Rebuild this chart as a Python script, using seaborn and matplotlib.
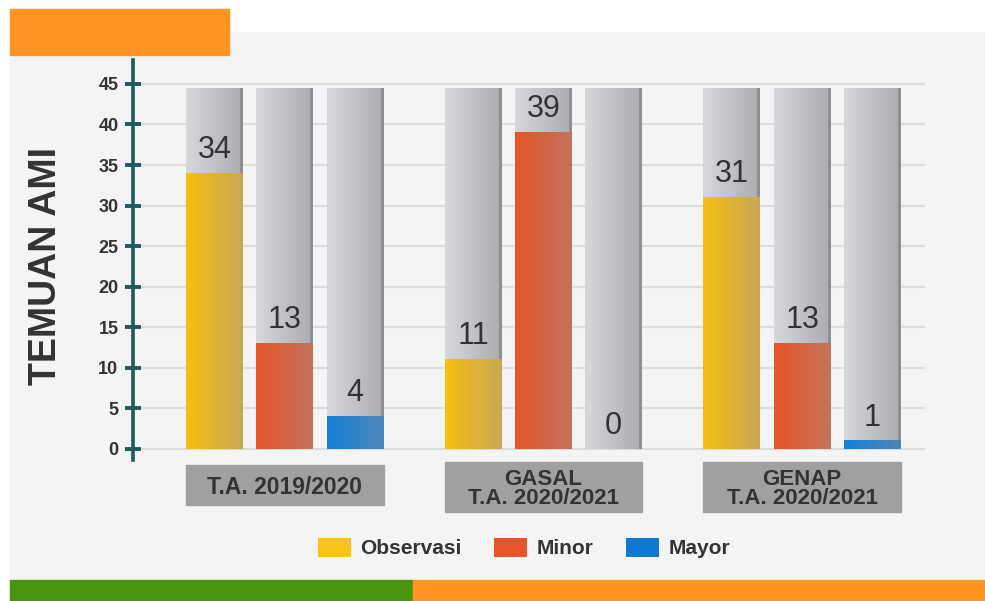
import numpy as np
import pandas as pd
import seaborn as sns
import matplotlib.pyplot as plt
from matplotlib.patches import Rectangle, Patch
from matplotlib.colors import LinearSegmentedColormap

# data
periode = ["T.A. 2019/2020", "GASAL\nT.A. 2020/2021", "GENAP\nT.A. 2020/2021"]
jenis = ["Observasi", "Minor", "Mayor"]
observasi = [34, 11, 31]
minor = [13, 39, 13]
mayor = [4, 0, 1]
y_ticks = [0, 5, 10, 15, 20, 25, 30, 35, 40, 45]
y_label = "TEMUAN AMI"
bar_max = 44.5  # grey background columns

df = pd.DataFrame({
    "periode": np.tile(periode, 3),
    "jenis": np.repeat(jenis, 3),
    "nilai": observasi + minor + mayor,
})
bg = df.assign(nilai=bar_max)

warna = {"Observasi": ("#f6bf12", "#c8a853"),
         "Minor": ("#e5562a", "#c4725b"),
         "Mayor": ("#1580d6", "#4c87b6")}
legend_warna = {"Observasi": "#f7c21a", "Minor": "#e6552a", "Mayor": "#0f78d0"}
orange = "#ff9623"
teks = "#333333"

plt.rcParams["font.family"] = ["Liberation Sans", "DejaVu Sans"]

fig = plt.figure(figsize=(9.85, 6.01), dpi=100)
fig.patch.set_facecolor("white")
# decorative panel and bands
fig.add_artist(Rectangle((10/985, 1-580/601), 975/985, 548/601, transform=fig.transFigure,
                         color="#f4f4f4", zorder=-10))
fig.add_artist(Rectangle((10/985, 1-55/601), 219/985, 46/601, transform=fig.transFigure,
                         color=orange, zorder=-5))
fig.add_artist(Rectangle((10/985, 0), 403/985, 21/601, transform=fig.transFigure,
                         color="#4b9410", zorder=-5))
fig.add_artist(Rectangle((413/985, 0), 572/985, 21/601, transform=fig.transFigure,
                         color=orange, zorder=-5))

ax = fig.add_axes([133/985, 1-460/601, 792/985, 400/601])
ax.set_facecolor("none")

sns.barplot(data=bg, x="periode", y="nilai", hue="jenis", order=periode, hue_order=jenis,
            palette=["#c5c7cb"]*3, width=0.815, gap=0.19, legend=False, ax=ax, zorder=2)
sns.barplot(data=df, x="periode", y="nilai", hue="jenis", order=periode, hue_order=jenis,
            palette=[warna[j][0] for j in jenis], width=0.815, gap=0.19, legend=False,
            ax=ax, zorder=3)

xlim = (-0.587, 2.475)
ylim = (-1.36, 47.95)

def gradien(bar, kiri, kanan, z, rim=None):
    x, y = bar.get_x(), bar.get_y()
    w, h = bar.get_width(), bar.get_height()
    if h <= 0:
        bar.set_visible(False)
        return
    cmap = LinearSegmentedColormap.from_list("g", [kiri, kanan])
    grad = np.linspace(0, 1, 64).reshape(1, -1)
    ax.imshow(grad, extent=[x, x + w, y, y + h], aspect="auto", cmap=cmap,
              zorder=z, interpolation="bilinear")
    if rim:
        ax.add_patch(Rectangle((x + w*0.95, y), w*0.05, h, color=rim, zorder=z + 0.1, lw=0))
    bar.set_visible(False)

for cont in ax.containers[:3]:
    for bar in cont:
        gradien(bar, "#d6d8dc", "#abacb0", 2, rim="#8e8f93")

for cont, j in zip(ax.containers[3:], jenis):
    for bar in cont:
        gradien(bar, warna[j][0], warna[j][1], 3)
    vals = [int(v) for v in cont.datavalues]
    for bar, v in zip(cont, vals):
        ax.annotate(str(v), (bar.get_x() + bar.get_width()/2, v), xytext=(0, 6),
                    textcoords="offset points", ha="center", va="bottom",
                    fontsize=22, color=teks, zorder=5)

ax.set_xlim(xlim)
ax.set_ylim(ylim)
ax.set_yticks(y_ticks)
ax.set_yticklabels([str(t) for t in y_ticks], fontsize=13, fontweight="bold", color=teks)
for t in y_ticks:
    ax.axhline(t, color="#dcdcdc", lw=1.5, zorder=1)

for s in ["top", "right", "bottom"]:
    ax.spines[s].set_visible(False)
ax.spines["left"].set_color("#1d5b5f")
ax.spines["left"].set_linewidth(2.6)
ax.spines["left"].set_zorder(6)
ax.tick_params(axis="y", direction="inout", length=11, width=2.8, color="#1d5b5f", pad=5)
ax.tick_params(axis="x", length=0)
ax.set_xticklabels([])
ax.set_xlabel("")
ax.set_ylabel("")

fig.text(46/985, 1-266/601, y_label, rotation=90, ha="center", va="center",
         fontsize=27, fontweight="bold", color=teks)

# category label boxes
trans = ax.get_xaxis_transform()
fig_to_ax = lambda yf: ax.transAxes.inverted().transform(fig.transFigure.transform((0, yf)))[1]
for i, p in enumerate(periode):
    bars = [ax.containers[k][i] for k in range(3)]
    x0 = bars[0].get_x()
    x1 = bars[2].get_x() + bars[2].get_width()
    two = "\n" in p
    top, bot = (1-462/601, 1-512/601) if two else (1-465/601, 1-505/601)
    yt, yb = fig_to_ax(top), fig_to_ax(bot)
    ax.add_patch(Rectangle((x0, yb), x1 - x0, yt - yb, transform=trans, color="#a0a0a0",
                           clip_on=False, zorder=4))
    ax.text((x0 + x1)/2, (yt + yb)/2 - 0.005, p, transform=trans, ha="center", va="center",
            fontsize=16.5 if not two else 16, fontweight="bold", color=teks,
            linespacing=0.85, zorder=5)

handles = [Patch(facecolor=legend_warna[j], edgecolor="none") for j in jenis]
fig.legend(handles, jenis, loc="center", bbox_to_anchor=(524/985, 1-548/601), ncol=3,
           frameon=False, prop={"weight": "bold", "size": 15}, labelcolor=teks,
           handlelength=1.6, handleheight=1.05, handletextpad=0.45, columnspacing=1.55)

fig.savefig("out.png", dpi=100, facecolor="white")
